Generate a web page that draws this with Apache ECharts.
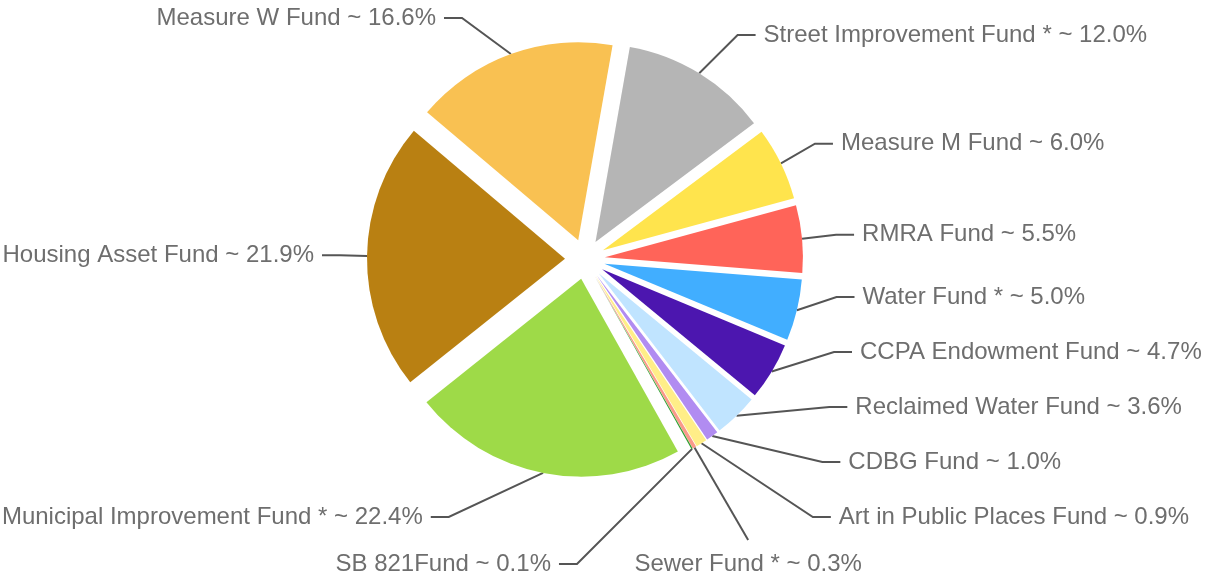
<!DOCTYPE html>
<html>
<head>
<meta charset="utf-8">
<style>
  html, body { margin: 0; padding: 0; background: #ffffff; }
  #chart { width: 1208px; height: 577px; }
</style>
<script src="https://cdn.jsdelivr.net/npm/echarts@6/dist/echarts.min.js"></script>
</head>
<body>
<div id="chart"></div>
<script>
// Share of each fund (percent), clockwise from the top of the pie
const fundNames = [
  'Street Improvement Fund *',
  'Measure M Fund',
  'RMRA Fund',
  'Water Fund *',
  'CCPA Endowment Fund',
  'Reclaimed Water Fund',
  'CDBG Fund',
  'Art in Public Places Fund',
  'Sewer Fund *',
  'SB 821Fund',
  'Municipal Improvement Fund *',
  'Housing Asset Fund',
  'Measure W Fund'
];
const fundShares = [12.0, 6.0, 5.5, 5.0, 4.7, 3.6, 1.0, 0.9, 0.3, 0.1, 22.4, 21.9, 16.6];
const fundColors = [
  '#b5b5b5', '#ffe44d', '#ff6459', '#41aeff', '#4c16af', '#c0e4ff',
  '#b18cf1', '#ffee88', '#fa9a8a', '#2e9f2e', '#9eda48', '#b98012', '#f9c152'
];

// Pie geometry
const PIE_CENTER = [585, 259];
const PIE_RADIUS = 198;
const SLICE_OFFSET = 20;     // every slice is pulled out by this much
const START_ANGLE = 80;      // echarts startAngle (degrees, counter-clockwise from 3 o'clock)

// Label placement settings
const LBL = {
  step: 55,            // vertical spacing between stacked labels
  top: 18,             // highest label centre
  colBottom: 517,      // lowest label centre in the side columns
  rowY: 564,           // the row of labels under the pie
  radialExtra: 45,     // natural label distance beyond the rim
  tail: 18, pad: 8,    // horizontal end of the guide line, gap to text
  ellCx: 588.5, ellA: 248.5,
  rbTop: 280, rbBottomLeft: 312, rbBottomRight: 600
};
// tiny slices at the bottom get their labels in a row under the pie
const bottomRow = { 'Sewer Fund *': 'below', 'SB 821Fund': 'left' };

// Mid-angle direction and rim anchor of every (pulled-out) slice
const total = fundShares.reduce((a, b) => a + b, 0);
let acc = 0;
const geo = fundShares.map(v => {
  const midDeg = (90 - START_ANGLE) + (acc + v / 2) / total * 360;
  acc += v;
  const r = midDeg * Math.PI / 180;
  const dx = Math.sin(r), dy = -Math.cos(r);
  const rim = PIE_RADIUS + SLICE_OFFSET;
  return {
    dx, dy,
    anchor: [PIE_CENTER[0] + rim * dx, PIE_CENTER[1] + rim * dy],
    natY: PIE_CENTER[1] + (rim + LBL.radialExtra) * dy
  };
});

// Stack labels of one side: overlapping labels are merged into groups
// centred on the mean of their natural positions, kept inside the bounds.
function spread(idx) {
  idx.sort((a, b) => geo[a].natY - geo[b].natY);
  const groups = idx.map(i => ({ members: [i] }));
  const place = g => {
    const n = g.members.length;
    const mean = g.members.reduce((s, i) => s + geo[i].natY, 0) / n;
    let start = mean - (n - 1) * LBL.step / 2;
    start = Math.max(LBL.top, Math.min(start, LBL.colBottom - (n - 1) * LBL.step));
    g.start = start;
    g.end = start + (n - 1) * LBL.step;
  };
  let merged = true;
  while (merged) {
    merged = false;
    groups.forEach(place);
    for (let k = 0; k < groups.length - 1; k++) {
      if (groups[k].end + LBL.step > groups[k + 1].start) {
        groups[k].members = groups[k].members.concat(groups[k + 1].members);
        groups.splice(k + 1, 1);
        merged = true;
        break;
      }
    }
  }
  const ys = {};
  groups.forEach(g => g.members.forEach((i, j) => { ys[i] = g.start + j * LBL.step; }));
  return ys;
}

const rightIdx = [], leftIdx = [];
fundNames.forEach((n, i) => {
  if (bottomRow[n]) return;
  (geo[i].dx > 0 ? rightIdx : leftIdx).push(i);
});
const labelY = Object.assign({}, spread(rightIdx), spread(leftIdx));

const labelPlan = fundNames.map((name, i) => {
  const g = geo[i];
  const a = g.anchor;
  const mode = bottomRow[name];
  if (mode === 'below') {
    // straight out along the slice, text centred under the line end
    const y = LBL.rowY;
    const endY = y - 24;
    const t = (endY - a[1]) / g.dy;
    const endX = a[0] + t * g.dx;
    return { x: endX, y, align: 'center', points: [a, [endX, endY], [endX, endY]] };
  }
  if (mode === 'left') {
    // 45-degree leader down to the row, then a short horizontal tail
    const y = LBL.rowY;
    const bendX = a[0] - (y - a[1]);
    const tailX = bendX - LBL.tail;
    return { x: tailX - LBL.pad, y, align: 'right', points: [a, [bendX, y], [tailX, y]] };
  }
  const side = g.dx > 0 ? 1 : -1;
  const y = labelY[i];
  const dyE = y - PIE_CENTER[1];
  const rb = dyE < 0 ? LBL.rbTop : (side > 0 ? LBL.rbBottomRight : LBL.rbBottomLeft);
  const bendX = LBL.ellCx + side * LBL.ellA * Math.sqrt(Math.max(0, 1 - (dyE / rb) * (dyE / rb)));
  const tailX = bendX + side * LBL.tail;
  return {
    x: tailX + side * LBL.pad, y,
    align: side > 0 ? 'left' : 'right',
    points: [a, [bendX, y], [tailX, y]]
  };
});

const formatLabel = p => p.name + ' ~ ' + p.value.toFixed(1) + '%';

const chart = echarts.init(document.getElementById('chart'), null, { renderer: 'canvas' });

chart.setOption({
  animation: false,
  series: [
    {
      // the exploded pie itself
      type: 'pie',
      center: PIE_CENTER,
      radius: PIE_RADIUS,
      startAngle: START_ANGLE,
      clockwise: true,
      selectedMode: 'multiple',
      selectedOffset: SLICE_OFFSET,
      itemStyle: { borderWidth: 0 },
      emphasis: { disabled: true },
      label: { show: false },
      labelLine: { show: false },
      silent: true,
      data: fundNames.map((name, i) => ({
        name: name,
        value: fundShares[i],
        selected: true,
        itemStyle: { color: fundColors[i] }
      }))
    },
    {
      // same data, invisible sectors: carries the callout labels
      type: 'pie',
      center: PIE_CENTER,
      radius: PIE_RADIUS,
      startAngle: START_ANGLE,
      clockwise: true,
      silent: true,
      itemStyle: { color: 'rgba(0,0,0,0)', borderWidth: 0 },
      emphasis: { disabled: true },
      label: {
        show: true,
        fontSize: 24,
        fontFamily: '"Liberation Sans", Arial, sans-serif',
        color: '#6e6e6e',
        formatter: formatLabel
      },
      labelLine: {
        show: true,
        length: 35,
        length2: 20,
        lineStyle: { color: '#555555', width: 2 }
      },
      labelLayout: p => {
        const L = labelPlan[p.dataIndex];
        return {
          x: L.x, y: L.y,
          align: L.align, verticalAlign: 'middle',
          labelLinePoints: L.points,
          hideOverlap: false
        };
      },
      data: fundNames.map((name, i) => ({ name: name, value: fundShares[i] }))
    }
  ]
});
</script>
</body>
</html>
